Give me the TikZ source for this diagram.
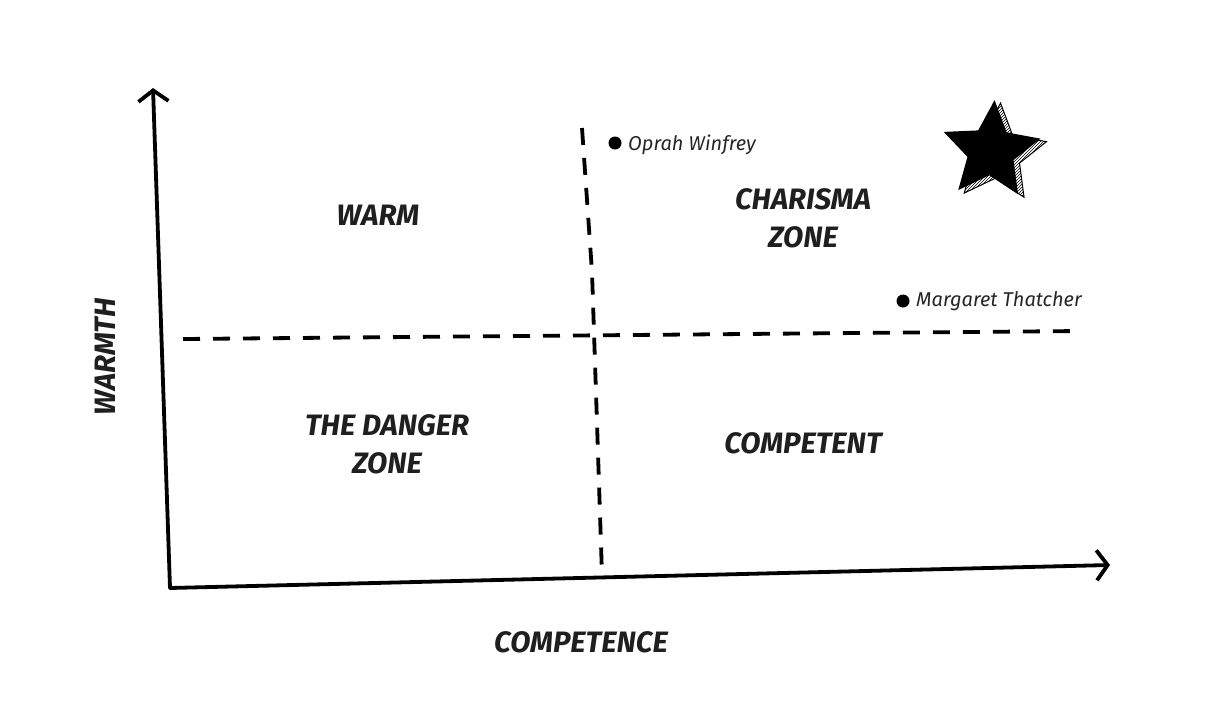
\documentclass[tikz,border=0pt]{standalone}
\usepackage{fontspec}
\setmainfont{Fira Sans}
\usetikzlibrary{arrows.meta,shapes.geometric,patterns}
\begin{document}
\begin{tikzpicture}[x=1pt,y=-1pt,
  axisline/.style={line width=3.8pt,line cap=round,
    -{Straight Barb[length=11pt,width=30pt,line width=3.8pt]}},
  divider/.style={line width=3.8pt,dash pattern=on 17pt off 13pt},
  zonelabel/.style={font=\fontsize{29.5}{38}\selectfont\bfseries\itshape,align=center,text=black!88},
  namelabel/.style={font=\fontsize{20}{22}\selectfont\itshape,text=black!85,anchor=west,inner sep=0pt},
  dotmark/.style={circle,fill=black,inner sep=0pt,minimum size=13pt}]
\useasboundingbox (0,0) rectangle (1222,726);
% axes
\coordinate (o) at (170,588);
\coordinate (ytop) at (153,88);
\coordinate (xend) at (1110,565);
\draw[axisline] (o) -- (ytop);
\draw[axisline] (o) -- (xend);
% dividers
\coordinate (vtop) at (582,128);
\coordinate (vmid) at (592,272);
\coordinate (vbot) at (602,575);
\coordinate (hl) at (183,339);
\coordinate (hr) at (1080,331);
\draw[divider] (vtop) -- (vmid) -- (vbot);
\draw[divider] (hl) -- (hr);
% zone labels
\node[zonelabel] (warm) at (378,215) {WARM};
\node[zonelabel] (charisma) at (803,218) {CHARISMA\\ZONE};
\node[zonelabel] (danger) at (387,444) {THE DANGER\\ZONE};
\node[zonelabel] (competent) at (803,443) {COMPETENT};
\node[zonelabel] (competence) at (581,642) {COMPETENCE};
\node[zonelabel,rotate=90] (warmth) at (105,357) {WARMTH};
% people
\node[dotmark] (odot) at (615,143) {};
\node[namelabel] (oprah) at (628,145) {Oprah Winfrey};
\node[dotmark] (mdot) at (903,301) {};
\node[namelabel] (maggie) at (916,301) {Margaret Thatcher};
% star
\node[star,star points=5,star point ratio=2.1,minimum size=102pt,rotate=-4,
  draw=black,line width=1pt,pattern=north east lines] (starshadow) at (997,154) {};
\node[star,star points=5,star point ratio=2.1,minimum size=102pt,rotate=-4,
  fill=black] (starfront) at (991,151) {};
\end{tikzpicture}
\end{document}
